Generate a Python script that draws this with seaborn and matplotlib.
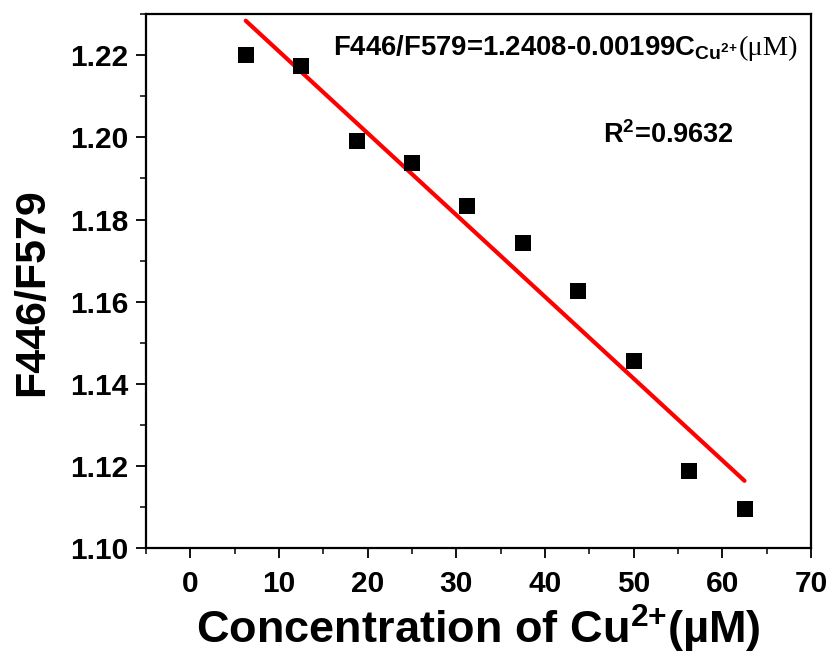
import matplotlib
matplotlib.use("Agg")
import matplotlib.pyplot as plt
import seaborn as sns
import numpy as np
import pandas as pd
from matplotlib.ticker import MultipleLocator

# ---- data ----
concentration = [6.25, 12.5, 18.75, 25.0, 31.25, 37.5, 43.75, 50.0, 56.25, 62.5]
ratio = [1.2200, 1.2174, 1.1992, 1.1938, 1.1834, 1.1744, 1.1625, 1.1456, 1.1189, 1.1096]
fit_intercept = 1.2408
fit_slope = -0.00199
x_ticks = [0, 10, 20, 30, 40, 50, 60, 70]
y_ticks = [1.10, 1.12, 1.14, 1.16, 1.18, 1.20, 1.22]

sns.set_theme(style="ticks")
plt.rcParams['font.family'] = ['Liberation Sans', 'DejaVu Sans']
plt.rcParams['font.weight'] = 'bold'
plt.rcParams['mathtext.fontset'] = 'custom'
plt.rcParams['mathtext.rm'] = 'Liberation Sans:bold'
plt.rcParams['mathtext.bf'] = 'Liberation Sans:bold'
plt.rcParams['mathtext.it'] = 'Liberation Sans:bold'

df = pd.DataFrame({"conc": concentration, "ratio": ratio})
fit_x = [concentration[0], concentration[-1]]
fit_df = pd.DataFrame({"conc": fit_x,
                       "ratio": [fit_intercept + fit_slope * v for v in fit_x]})

fig = plt.figure(figsize=(8.32, 6.61), dpi=100)
ax = fig.add_axes([146/832, 1 - 548.3/661, (811-146)/832, (548.3-14)/661])
ax.set_facecolor('white')
fig.patch.set_facecolor('white')

sns.lineplot(data=fit_df, x="conc", y="ratio", color="#ff0000", linewidth=3.0, ax=ax, zorder=2)
sns.scatterplot(data=df, x="conc", y="ratio", marker="s", color="black", s=125,
                edgecolor="black", linewidth=0, ax=ax, zorder=3)

ax.set_xlim(-5, 70)
ax.set_ylim(1.10, 1.23)
ax.set_xticks(x_ticks)
ax.set_yticks(y_ticks)
ax.set_xticklabels([str(v) for v in x_ticks])
ax.set_yticklabels([f"{v:.2f}" for v in y_ticks])
ax.xaxis.set_minor_locator(MultipleLocator(5))
ax.yaxis.set_minor_locator(MultipleLocator(0.01))

for s in ax.spines.values():
    s.set_visible(True)
    s.set_linewidth(1.6)
    s.set_color('black')

ax.tick_params(axis='both', which='major', direction='out', length=7.5, width=1.3,
               labelsize=21.5, colors='black', top=False, right=False)
ax.tick_params(axis='both', which='minor', direction='out', length=4.5, width=1.3,
               top=False, right=False)
ax.tick_params(axis='y', which='major', pad=5)
ax.tick_params(axis='x', which='major', pad=8)
for lab in ax.get_xticklabels() + ax.get_yticklabels():
    lab.set_fontweight('bold')

ax.set_xlabel(r'Concentration of Cu$^{\mathbf{2{+}}}$(µM)', fontsize=32.5, fontweight='bold',
              labelpad=4, color='black')
ax.set_ylabel('F446/F579', fontsize=31, fontweight='bold', color='black')
ax.yaxis.set_label_coords(-0.141, 0.48)

t1 = fig.text(333/832, 1 - 55/661, r'F446/F579=1.2408-0.00199C$_{\mathbf{Cu^{2{+}}}}$',
              fontsize=19.8, fontweight='bold', color='black',
              ha='left', va='baseline')
fig.canvas.draw()
bb = t1.get_window_extent()
fig.text(bb.x1 / fig.bbox.width + 1/832, 1 - 55/661, '(μM)',
         fontsize=20.5, family=['Liberation Serif', 'DejaVu Serif'], fontweight='normal',
         color='black', ha='left', va='baseline')
fig.text(603/832, 1 - 143/661, r'R$^{\mathbf{2}}$=0.9632',
         fontsize=19.5, fontweight='bold', color='black', ha='left', va='baseline')

fig.savefig("out.png", dpi=100, facecolor='white')
